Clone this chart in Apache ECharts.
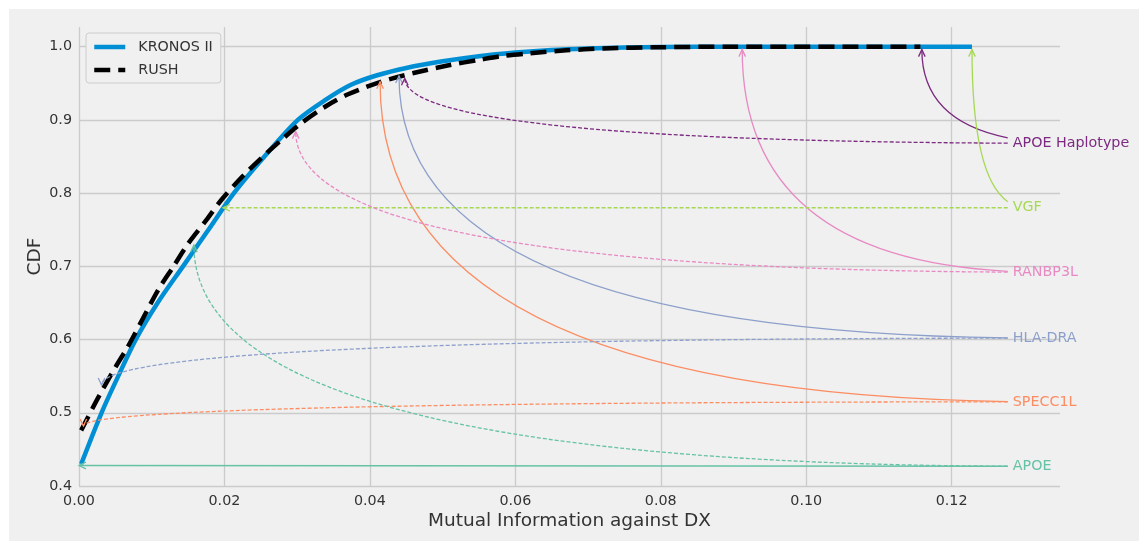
<!DOCTYPE html>
<html>
<head>
<meta charset="utf-8">
<script src="https://cdn.jsdelivr.net/npm/echarts@6/dist/echarts.min.js"></script>
<style>
html, body { margin: 0; padding: 0; background: #ffffff; width: 1143px; height: 541px; overflow: hidden; }
#chart { position: absolute; left: 9px; top: 9px; width: 1130px; height: 532px; background: #f0f0f0; }
</style>
</head>
<body>
<div id="chart"></div>
<script>
// ---- data ----
const kronosMI  = [0.0003, 0.0031, 0.0053, 0.0078, 0.0108, 0.0143, 0.0178, 0.0213, 0.0255, 0.0301, 0.0340, 0.0374, 0.041, 0.045, 0.050, 0.055, 0.060, 0.065, 0.070, 0.075, 0.080, 0.090, 0.1228];
const kronosCDF = [0.430, 0.500, 0.548, 0.600, 0.650, 0.700, 0.750, 0.800, 0.850, 0.900, 0.928, 0.948, 0.961, 0.971, 0.980, 0.987, 0.992, 0.9955, 0.9975, 0.9988, 0.9995, 1.0, 1.0];

const rushMI  = [0.0003, 0.0026, 0.0050, 0.0067, 0.0088, 0.0109, 0.0130, 0.0150, 0.0175, 0.0196, 0.0225, 0.0253, 0.0280, 0.0305, 0.034, 0.037, 0.0415, 0.046, 0.051, 0.055, 0.058, 0.062, 0.067, 0.072, 0.080, 0.090, 0.1157];
const rushCDF = [0.476, 0.520, 0.562, 0.590, 0.629, 0.668, 0.700, 0.731, 0.763, 0.791, 0.823, 0.850, 0.874, 0.895, 0.919, 0.935, 0.952, 0.964, 0.975, 0.982, 0.987, 0.991, 0.995, 0.9975, 0.9993, 1.0, 1.0];

const geneNames      = ['APOE Haplotype', 'VGF', 'RANBP3L', 'HLA-DRA', 'SPECC1L', 'APOE'];
const geneLabelMI    = [0.1284, 0.1284, 0.1284, 0.1284, 0.1284, 0.1284];
const geneLabelCDF   = [0.868, 0.780, 0.692, 0.602, 0.515, 0.427];
const geneKronosMI   = [0.1159, 0.1228, 0.0912, 0.0440, 0.0414, 0.0000];
const geneKronosCDF  = [0.996, 0.996, 0.996, 0.960, 0.952, 0.428];
const geneRushMI     = [0.0448, 0.0198, 0.0298, 0.0031, 0.0006, 0.0158];
const geneRushCDF    = [0.957, 0.780, 0.884, 0.538, 0.482, 0.729];

const xTickLabels = ['0.00', '0.02', '0.04', '0.06', '0.08', '0.10', '0.12'];
const yTickLabels = ['0.4', '0.5', '0.6', '0.7', '0.8', '0.9', '1.0'];

// ---- styles ----
const geneColors = ['#7b2a80', '#a6d854', '#e78ac3', '#8da0cb', '#fc8d62', '#66c2a5'];
const FONT = '"DejaVu Sans", sans-serif';
const LABEL_SIZE = 14.3;

const measureCtx = document.createElement('canvas').getContext('2d');
function textWidth(t) {
  measureCtx.font = LABEL_SIZE + 'px ' + FONT;
  return measureCtx.measureText(t).width;
}

function bez(p0, p1, p2, t) {
  const a = (1 - t) * (1 - t), b = 2 * t * (1 - t), c = t * t;
  return [a * p0[0] + b * p1[0] + c * p2[0], a * p0[1] + b * p1[1] + c * p2[1]];
}

function makeRender(dashed, drawText) {
  return function (params, api) {
    const i = params.dataIndex;
    const a = api.coord([api.value(0), api.value(1)]);
    const p2 = api.coord([api.value(2), api.value(3)]);
    const name = geneNames[i];
    const color = geneColors[i];
    const w = textWidth(name);
    const P0 = [a[0] + w / 2, a[1]];
    const P1 = [p2[0], P0[1]];
    const clipX = a[0] - 5;
    let ratio = (clipX - p2[0]) / (P0[0] - p2[0]);
    ratio = Math.max(0, Math.min(1, ratio));
    const t0 = 1 - Math.sqrt(ratio);
    const Q0 = bez(P0, P1, p2, t0);
    const Q1 = [(1 - t0) * P1[0] + t0 * p2[0], (1 - t0) * P1[1] + t0 * p2[1]];
    let dx = p2[0] - Q1[0], dy = p2[1] - Q1[1];
    let len = Math.hypot(dx, dy);
    if (len < 6) { dx = p2[0] - Q0[0]; dy = p2[1] - Q0[1]; len = Math.hypot(dx, dy) || 1; }
    const ux = dx / len, uy = dy / len;
    const hl = 7, hw = 3.3;
    const base = [p2[0] - ux * hl, p2[1] - uy * hl];
    const left = [base[0] - uy * hw, base[1] + ux * hw];
    const right = [base[0] + uy * hw, base[1] - ux * hw];
    const children = [
      {
        type: 'bezierCurve',
        shape: { x1: Q0[0], y1: Q0[1], cpx1: Q1[0], cpy1: Q1[1], x2: p2[0], y2: p2[1] },
        style: { stroke: color, fill: 'none', lineWidth: 1.3, lineDash: dashed ? [4, 2] : null }
      },
      {
        type: 'polyline',
        shape: { points: [left, p2, right] },
        style: { stroke: color, fill: 'none', lineWidth: 1.3 }
      }
    ];
    if (drawText) {
      children.push({
        type: 'text',
        x: a[0], y: a[1],
        style: {
          text: name, fill: color, fontSize: LABEL_SIZE, fontFamily: FONT,
          align: 'left', verticalAlign: 'middle'
        }
      });
    }
    return { type: 'group', children: children };
  };
}

const kronosData = kronosMI.map((x, i) => [x, kronosCDF[i]]);
const rushData = rushMI.map((x, i) => [x, rushCDF[i]]);
const solidArrowData = geneNames.map((n, i) => [geneLabelMI[i], geneLabelCDF[i], geneKronosMI[i], geneKronosCDF[i]]);
const dashedArrowData = geneNames.map((n, i) => [geneLabelMI[i], geneLabelCDF[i], geneRushMI[i], geneRushCDF[i]]);

const chart = echarts.init(document.getElementById('chart'), null, { renderer: 'canvas' });
const gridColor = '#cbcbcb';
const tickColor = '#333333';

chart.setOption({
  animation: false,
  backgroundColor: '#f0f0f0',
  grid: { left: 70, right: 79, top: 18, bottom: 55, containLabel: false },
  legend: {
    data: ['KRONOS II', 'RUSH'],
    orient: 'vertical',
    left: 77, top: 24,
    itemWidth: 31, itemHeight: 14, itemGap: 9,
    padding: [7, 8, 6, 6],
    borderColor: '#cccccc', borderWidth: 1, borderRadius: 3,
    backgroundColor: '#f0f0f0',
    itemStyle: { opacity: 0 },
    lineStyle: { width: 4.5 },
    textStyle: { fontFamily: FONT, fontSize: LABEL_SIZE, color: tickColor, padding: [0, 0, 0, 8] }
  },
  xAxis: {
    type: 'value', min: 0, max: 0.1349, interval: 0.02,
    name: 'Mutual Information against DX', nameLocation: 'middle', nameGap: 26, nameMoveOverlap: false,
    nameTextStyle: { fontFamily: FONT, fontSize: 18.5, color: tickColor },
    axisLine: { show: false }, axisTick: { show: false },
    axisLabel: {
      margin: 8, fontFamily: FONT, fontSize: LABEL_SIZE, color: tickColor, showMaxLabel: false,
      formatter: function (v) {
        const k = Math.round(v / 0.02);
        return Math.abs(k * 0.02 - v) < 1e-6 && xTickLabels[k] !== undefined ? xTickLabels[k] : '';
      }
    },
    splitLine: { show: true, showMaxLine: false, lineStyle: { color: gridColor, width: 1.3 } }
  },
  yAxis: {
    type: 'value', min: 0.4, max: 1.0269, interval: 0.1,
    name: 'CDF', nameLocation: 'middle', nameGap: 34, nameMoveOverlap: false,
    nameTextStyle: { fontFamily: FONT, fontSize: 18.5, color: tickColor },
    axisLine: { show: false }, axisTick: { show: false },
    axisLabel: {
      margin: 7, fontFamily: FONT, fontSize: LABEL_SIZE, color: tickColor, showMaxLabel: false,
      formatter: function (v) {
        const k = Math.round((v - 0.4) / 0.1);
        return Math.abs(0.4 + k * 0.1 - v) < 1e-6 && yTickLabels[k] !== undefined ? yTickLabels[k] : '';
      }
    },
    splitLine: { show: true, showMaxLine: false, lineStyle: { color: gridColor, width: 1.3 } }
  },
  series: [
    {
      name: 'KRONOS II', type: 'line', data: kronosData,
      smooth: 0.3, symbol: 'none', showSymbol: false,
      lineStyle: { color: '#008fd5', width: 4.5 }, itemStyle: { color: '#008fd5' },
      z: 3, silent: true
    },
    {
      name: 'RUSH', type: 'line', data: rushData,
      smooth: 0.3, symbol: 'none', showSymbol: false,
      lineStyle: { color: '#000000', width: 4.5, type: [16, 8], cap: 'butt' }, itemStyle: { color: '#000000' },
      z: 4, silent: true
    },
    {
      name: 'solidArrows', type: 'custom', coordinateSystem: 'cartesian2d',
      data: solidArrowData, renderItem: makeRender(false, true),
      encode: { x: [0, 2], y: [1, 3] }, clip: false, silent: true, z: 5
    },
    {
      name: 'dashedArrows', type: 'custom', coordinateSystem: 'cartesian2d',
      data: dashedArrowData, renderItem: makeRender(true, false),
      encode: { x: [0, 2], y: [1, 3] }, clip: false, silent: true, z: 5
    }
  ]
});
</script>
</body>
</html>
